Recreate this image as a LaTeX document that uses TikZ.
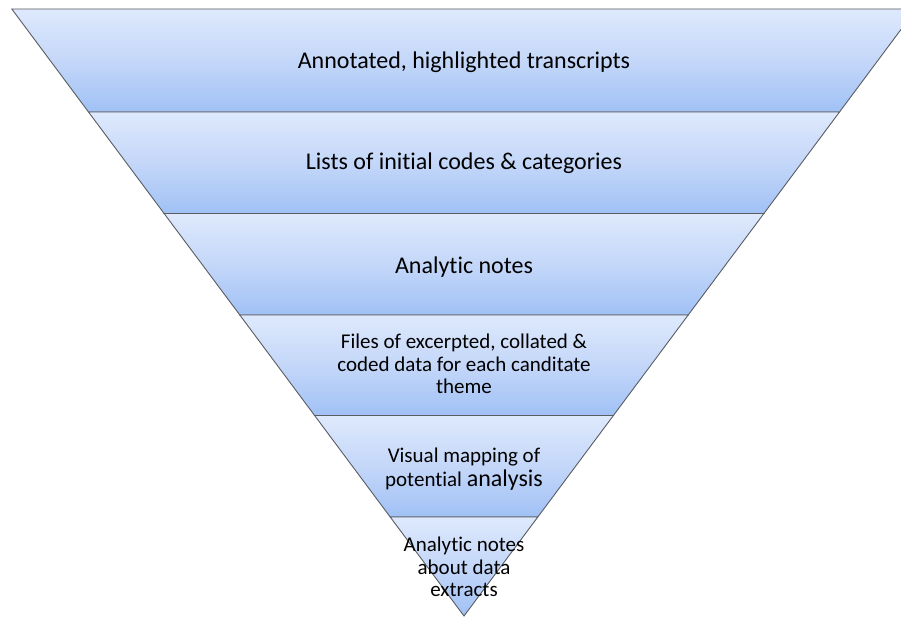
\documentclass[tikz,border=0pt]{standalone}
\usepackage{fontspec}
\setmainfont{Carlito}[Ligatures=NoCommon]
\definecolor{bandtop}{RGB}{222,233,252}
\definecolor{bandmid}{RGB}{196,215,249}
\definecolor{bandbot}{RGB}{160,193,245}
\definecolor{bandline}{RGB}{90,92,98}
\tikzset{
  band/.style={top color=bandtop, bottom color=bandbot, middle color=bandmid, draw=bandline, line width=0.9pt, line join=miter},
  bigtext/.style={font=\fontsize{24}{26}\selectfont, anchor=base, inner sep=0pt},
  smalltext/.style={font=\fontsize{21}{22.6}\selectfont, align=center, anchor=center, inner sep=0pt}
}
\begin{document}
\begin{tikzpicture}[x=1pt,y=1pt]
\useasboundingbox (0,0) rectangle (901,616);
\begin{scope}
\clip (0,0) rectangle (901,616);
\path[band] (11.8,607) -- (916.2,607) -- (839.5,504) -- (88.5,504) -- cycle;
\path[band] (88.5,504) -- (839.5,504) -- (763.9,402.5) -- (164.1,402.5) -- cycle;
\path[band] (164.1,402.5) -- (763.9,402.5) -- (688.2,301) -- (239.8,301) -- cycle;
\path[band] (239.8,301) -- (688.2,301) -- (613.4,200.5) -- (314.6,200.5) -- cycle;
\path[band] (314.6,200.5) -- (613.4,200.5) -- (537.8,99) -- (390.2,99) -- cycle;
\path[band] (390.2,99) -- (537.8,99) -- (464,0) -- cycle;
\end{scope}
\node[bigtext] (t1) at (464,547) {Annotated, highlighted transcripts};
\node[bigtext] (t2) at (464,446) {Lists of initial codes \& categories};
\node[bigtext] (t3) at (464,342.7) {Analytic notes};
\node[smalltext] (t4) at (464,252.2) {Files of excerpted, collated \&\\coded data for each canditate\\theme};
\node[smalltext, font=\fontsize{21}{24.3}\selectfont] (t5) at (464,147) {Visual mapping of\\potential {\fontsize{24}{24.3}\selectfont analysis}};
\node[smalltext] (t6) at (464,49.2) {Analytic notes\\about data\\extracts};
\end{tikzpicture}
\end{document}
